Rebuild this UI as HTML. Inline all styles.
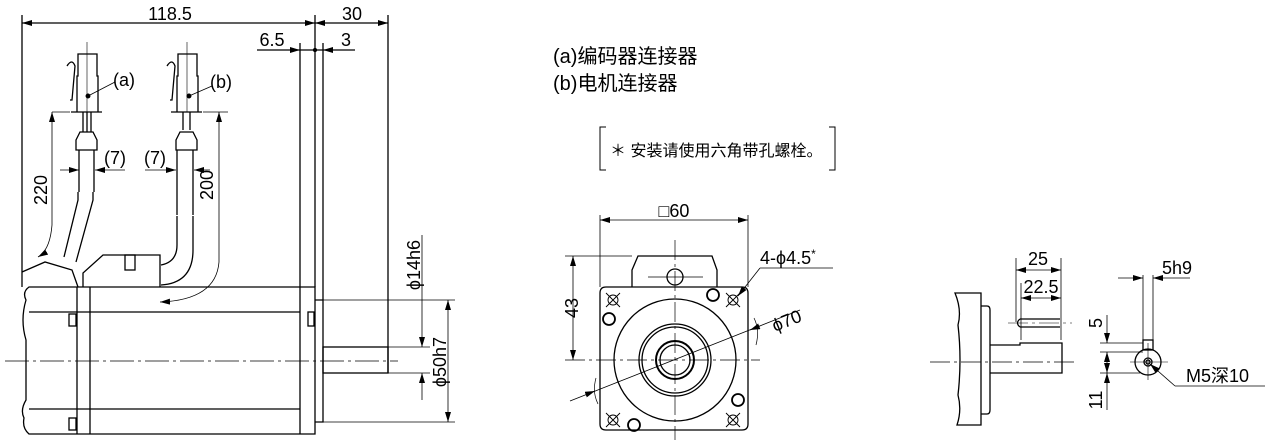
<!DOCTYPE html>
<html><head><meta charset="utf-8"><style>
html,body{margin:0;padding:0;background:#fff;}
svg{display:block;}
text{font-family:"Liberation Sans","Noto Sans CJK SC",sans-serif;fill:#000;}
</style></head><body>
<svg width="1271" height="448" viewBox="0 0 1271 448" xmlns="http://www.w3.org/2000/svg">
<defs>
<marker id="a" viewBox="0 0 10 6" refX="10" refY="3" markerWidth="10" markerHeight="6" orient="auto-start-reverse" markerUnits="userSpaceOnUse"><path d="M0,0L10,3L0,6z" fill="#000"/></marker>
</defs>
<g stroke="#000" stroke-width="1.3" fill="none">
<line x1="22" y1="15" x2="22" y2="287"/>
<line x1="315" y1="15" x2="315" y2="287"/>
<line x1="388" y1="15" x2="388" y2="373"/>
<line x1="22" y1="23" x2="315" y2="23" marker-start="url(#a)" marker-end="url(#a)"/>
<line x1="315" y1="23" x2="388" y2="23" marker-start="url(#a)" marker-end="url(#a)"/>
<line x1="300" y1="43" x2="300" y2="434"/>
<line x1="323" y1="43" x2="323" y2="300"/>
<line x1="257" y1="50" x2="300" y2="50" marker-end="url(#a)"/>
<line x1="355" y1="50" x2="323" y2="50" marker-end="url(#a)"/>
<line x1="300" y1="50" x2="323" y2="50"/>
<circle cx="315" cy="50" r="1.5" fill="#000"/>
<path d="M29,287 L315,287 L315,434 L29,434 Q22,428 24,418 Q20,410 26,400 L26,340 Q20,320 26,300 Q22,292 29,287z"/>
<line x1="77" y1="287" x2="77" y2="434"/>
<line x1="90" y1="287" x2="90" y2="434"/>
<line x1="29" y1="312" x2="300" y2="312"/>
<line x1="29" y1="409" x2="300" y2="409"/>
<rect x="69" y="314" width="7" height="12"/>
<rect x="69" y="418" width="7" height="12"/>
<rect x="308" y="312" width="6" height="14"/>
<path d="M315,300 L323,300 L323,422 L315,422"/>
<rect x="323" y="347" width="65" height="26"/>
<line x1="5" y1="361" x2="398" y2="361" stroke-dasharray="24,4,3,4" stroke-width="0.8"/>
<path d="M22,272 L45,262 L72,270 L78,287"/>
<path d="M64,257 L78,200 L78,192 M76,262 L93,200 L93,192"/>
<path d="M79,150 L79,192 M94,150 L94,192"/>
<path d="M76,150 L76,140 L80,132 L93,132 L97,140 L97,150z"/>
<line x1="83" y1="112" x2="83" y2="132"/><line x1="87" y1="112" x2="87" y2="132"/><line x1="91" y1="112" x2="91" y2="132"/>
<path d="M71,112 L102,112 M78,54 L97,54 L97,76 L98,76 L98,112 L77,112 L77,76 L78,76z M67,66 Q72,58 75,66 L72,100 L70,100"/>
<line x1="87" y1="42" x2="87" y2="112" stroke-width="0.6"/>
<circle cx="88" cy="96" r="1.8" fill="#000"/>
<line x1="88" y1="96" x2="115" y2="82" stroke-width="0.8"/>
<path d="M171,112 L202,112 M178,54 L197,54 L197,76 L198,76 L198,112 L177,112 L177,76 L178,76z M167,66 Q172,58 175,66 L172,100 L170,100"/>
<line x1="187" y1="42" x2="187" y2="112" stroke-width="0.6"/>
<circle cx="189" cy="96" r="1.8" fill="#000"/>
<line x1="189" y1="96" x2="212" y2="86" stroke-width="0.8"/>
<line x1="183" y1="112" x2="183" y2="130"/><line x1="190" y1="112" x2="190" y2="130"/>
<path d="M176,150 L176,140 L180,132 L193,132 L197,140 L197,150z"/>
<path d="M177,150 L177,215 M193,150 L193,215 M177,216 L177,245 Q177,262 161,265 M193,216 L193,250 Q193,283 161,285"/>
<path d="M83,287 L83,273 L103,255 L160,255 L160,287"/>
<rect x="125" y="255" width="10" height="15"/>
<line x1="52" y1="112" x2="70" y2="112" stroke-width="0.8"/>
<line x1="203" y1="112" x2="228" y2="112" stroke-width="0.8"/>
<path d="M52,112 L52,225 Q50,250 38,257" marker-start="url(#a)" marker-end="url(#a)" stroke-width="0.8"/>
<path d="M219,112 L219,262 Q216,300 160,302" marker-start="url(#a)" marker-end="url(#a)" stroke-width="0.8"/>
<line x1="60" y1="170" x2="79" y2="170" marker-end="url(#a)" stroke-width="0.8"/>
<line x1="125" y1="170" x2="95" y2="170" marker-end="url(#a)" stroke-width="0.8"/>
<line x1="145" y1="170" x2="176" y2="170" marker-end="url(#a)" stroke-width="0.8"/>
<line x1="210" y1="170" x2="194" y2="170" marker-end="url(#a)" stroke-width="0.8"/>
<line x1="422" y1="235" x2="422" y2="347" marker-end="url(#a)" stroke-width="0.8"/>
<line x1="422" y1="400" x2="422" y2="373" marker-end="url(#a)" stroke-width="0.8"/>
<line x1="388" y1="347" x2="430" y2="347" stroke-width="0.8"/>
<line x1="388" y1="373" x2="430" y2="373" stroke-width="0.8"/>
<line x1="323" y1="300" x2="455" y2="300" stroke-width="0.8"/>
<line x1="323" y1="422" x2="455" y2="422" stroke-width="0.8"/>
<line x1="448" y1="300" x2="448" y2="422" marker-start="url(#a)" marker-end="url(#a)" stroke-width="0.8"/>

<path d="M606,287 L742,287 Q748,287 748,293 L748,424 Q748,430 742,430 L606,430 Q600,430 600,424 L600,293 Q600,287 606,287z"/>
<path d="M632,287 L632,270 L638,256 L712,256 L717,270 L717,287"/>
<circle cx="675" cy="277" r="8"/>
<line x1="648" y1="277" x2="703" y2="277" stroke-width="0.7"/>
<circle cx="675" cy="360" r="61"/>
<circle cx="675" cy="360" r="36"/><circle cx="675" cy="360" r="33"/>
<circle cx="675" cy="360" r="19" stroke-width="2"/><circle cx="675" cy="360" r="15"/>
<line x1="675" y1="240" x2="675" y2="440" stroke-dasharray="20,4,3,4" stroke-width="0.7"/>
<line x1="565" y1="360" x2="760" y2="360" stroke-dasharray="20,4,3,4" stroke-width="0.7"/>
<g stroke-width="0.9">
<circle cx="613" cy="300" r="5"/><path d="M606,293L620,307M620,293L606,307"/>
<circle cx="733" cy="300" r="5"/><path d="M726,293L740,307M740,293L726,307"/>
<circle cx="613" cy="420" r="5"/><path d="M606,413L620,427M620,413L606,427"/>
<circle cx="733" cy="420" r="5"/><path d="M726,413L740,427M740,413L726,427"/>
</g>
<g stroke-width="1.8">
<circle cx="713" cy="295" r="6"/><circle cx="609" cy="319" r="6"/>
<circle cx="738" cy="400" r="6"/><circle cx="634" cy="425" r="6"/>
</g>
<line x1="600" y1="215" x2="600" y2="287" stroke-width="0.8"/>
<line x1="748" y1="215" x2="748" y2="287" stroke-width="0.8"/>
<line x1="600" y1="220" x2="748" y2="220" marker-start="url(#a)" marker-end="url(#a)" stroke-width="0.8"/>
<line x1="565" y1="256" x2="632" y2="256" stroke-width="0.8"/>
<line x1="573" y1="256" x2="573" y2="360" marker-start="url(#a)" marker-end="url(#a)" stroke-width="0.8"/>
<line x1="760" y1="268" x2="833" y2="268" stroke-width="0.8"/>
<line x1="760" y1="268" x2="738" y2="296" marker-end="url(#a)" stroke-width="0.8"/>
<line x1="570" y1="401" x2="800" y2="310" stroke-width="0.8"/>
<line x1="595" y1="391" x2="586" y2="394.5" marker-start="url(#a)" stroke-width="0.8"/>
<line x1="760" y1="326" x2="750" y2="330" marker-end="url(#a)" stroke-width="0.8"/>
<path d="M754,318 Q760,330 756,345" stroke-width="0.7"/>
<path d="M596,378 Q592,392 598,404" stroke-width="0.7"/>
<path d="M606,127 L600,127 L600,170 L606,170 M829,127 L835,127 L835,170 L829,170" stroke-width="1"/>

<path d="M955,293 L981,293 L981,425 L957,425 Q962,410 958,395 Q962,360 958,325 Q962,310 955,293z"/>
<path d="M981,306 L987,306 Q990,306 990,310 L990,410 Q990,414 987,414 L981,414"/>
<path d="M990,345 L1020,345 L1020,343 L1062,343 L1062,373 L990,373"/>
<line x1="930" y1="362" x2="1078" y2="362" stroke-dasharray="20,4,3,4" stroke-width="0.7"/>
<path d="M1020,319 L1060,319 M1020,327 L1060,327 M1020,319 Q1015,323 1020,327"/>
<line x1="1008" y1="323" x2="1072" y2="323" stroke-dasharray="20,4,3,4" stroke-width="0.6"/>
<line x1="1016" y1="258" x2="1016" y2="322" stroke-width="0.8"/>
<line x1="1061" y1="258" x2="1061" y2="340" stroke-width="0.8"/>
<line x1="1021" y1="283" x2="1021" y2="340" stroke-width="0.8"/>
<line x1="1016" y1="270" x2="1061" y2="270" marker-start="url(#a)" marker-end="url(#a)" stroke-width="0.8"/>
<line x1="1021" y1="298" x2="1061" y2="298" marker-start="url(#a)" marker-end="url(#a)" stroke-width="0.8"/>
<circle cx="1148" cy="362" r="13"/>
<rect x="1143" y="340" width="10" height="10"/>
<circle cx="1148" cy="362" r="4"/><circle cx="1148" cy="362" r="2"/>
<line x1="1130" y1="362" x2="1168" y2="362" stroke-width="0.6"/>
<line x1="1148" y1="343" x2="1148" y2="380" stroke-width="0.6"/>
<line x1="1143" y1="275" x2="1143" y2="340" stroke-width="0.8"/>
<line x1="1153" y1="275" x2="1153" y2="340" stroke-width="0.8"/>
<line x1="1118" y1="278" x2="1143" y2="278" marker-end="url(#a)" stroke-width="0.8"/>
<line x1="1190" y1="278" x2="1153" y2="278" marker-end="url(#a)" stroke-width="0.8"/>
<line x1="1100" y1="343" x2="1143" y2="343" stroke-width="0.8"/>
<line x1="1100" y1="352" x2="1143" y2="352" stroke-width="0.8"/>
<line x1="1100" y1="373" x2="1140" y2="373" stroke-width="0.8"/>
<line x1="1107" y1="315" x2="1107" y2="343" marker-end="url(#a)" stroke-width="0.8"/>
<line x1="1107" y1="352" x2="1107" y2="373" marker-start="url(#a)" marker-end="url(#a)" stroke-width="0.8"/>
<line x1="1107" y1="410" x2="1107" y2="373" marker-end="url(#a)" stroke-width="0.8"/>
<line x1="1265" y1="386" x2="1175" y2="386" stroke-width="0.8"/>
<line x1="1175" y1="386" x2="1150" y2="364" marker-end="url(#a)" stroke-width="0.8"/>
</g>
<g font-size="18">
<text x="170" y="20" text-anchor="middle">118.5</text>
<text x="352" y="20" text-anchor="middle">30</text>
<text x="272" y="46" text-anchor="middle">6.5</text>
<text x="346" y="46" text-anchor="middle">3</text>
<text x="113" y="86" font-family="Liberation Serif">(a)</text>
<text x="210" y="88" font-family="Liberation Serif">(b)</text>
<text x="115" y="164" text-anchor="middle" font-family="Liberation Serif">(7)</text>
<text x="155" y="164" text-anchor="middle" font-family="Liberation Serif">(7)</text>
<text transform="translate(47,190) rotate(-90)" text-anchor="middle">220</text>
<text transform="translate(213,185) rotate(-90)" text-anchor="middle">200</text>
<text transform="translate(420,265) rotate(-90)" text-anchor="middle">ϕ14h6</text>
<text transform="translate(446,362) rotate(-90)" text-anchor="middle">ϕ50h7</text>
<text x="674" y="217" text-anchor="middle">□60</text>
<text transform="translate(578,308) rotate(-90)" text-anchor="middle">43</text>
<text x="760" y="264">4-ϕ4.5<tspan font-size="12" dy="-6">*</tspan></text>
<text transform="translate(775,332) rotate(-22)">ϕ70</text>
<text x="1038" y="265" text-anchor="middle">25</text>
<text x="1041" y="293" text-anchor="middle">22.5</text>
<text x="1162" y="274">5h9</text>
<text transform="translate(1102,323) rotate(-90)" text-anchor="middle">5</text>
<text transform="translate(1102,400) rotate(-90)" text-anchor="middle">11</text>
<text x="1186" y="382">M5深10</text>
</g>
<text x="553" y="63" font-size="20">(a)编码器连接器</text>
<text x="553" y="90" font-size="20">(b)电机连接器</text>
<text x="610" y="156" font-size="16">＊ 安装请使用六角带孔螺栓。</text>
</svg>
</body></html>
